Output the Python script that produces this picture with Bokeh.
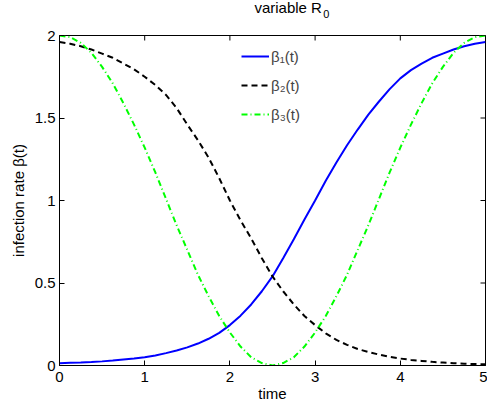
import math
from bokeh.plotting import figure
from bokeh.layouts import column
from bokeh.models import Legend, LegendItem, FixedTicker, Range1d, ColumnDataSource
from bokeh.core.properties import value
from bokeh.embed import file_html
from bokeh.resources import INLINE

# ---- data ----
t = [0.0, 0.125, 0.25, 0.375, 0.5, 0.625, 0.75, 0.875, 1.0, 1.125, 1.25, 1.375,
     1.5, 1.625, 1.75, 1.875, 2.0, 2.125, 2.25, 2.375, 2.5, 2.625, 2.75, 2.875,
     3.0, 3.125, 3.25, 3.375, 3.5, 3.625, 3.75, 3.875, 4.0, 4.125, 4.25, 4.375,
     4.5, 4.625, 4.75, 4.875, 5.0]
beta1 = [0.014, 0.016, 0.018, 0.021, 0.025, 0.030, 0.036, 0.042, 0.050, 0.061,
         0.075, 0.091, 0.110, 0.133, 0.162, 0.198, 0.245, 0.302, 0.370, 0.450,
         0.540, 0.650, 0.765, 0.885, 1.000, 1.120, 1.230, 1.335, 1.430, 1.520,
         1.600, 1.675, 1.740, 1.790, 1.830, 1.865, 1.890, 1.915, 1.935, 1.950, 1.960]
beta2 = [1.960, 1.950, 1.935, 1.915, 1.890, 1.865, 1.830, 1.795, 1.750, 1.700,
         1.640, 1.560, 1.460, 1.365, 1.260, 1.135, 1.000, 0.880, 0.770, 0.650,
         0.540, 0.450, 0.370, 0.300, 0.245, 0.195, 0.155, 0.125, 0.100, 0.082,
         0.066, 0.052, 0.042, 0.034, 0.028, 0.022, 0.018, 0.014, 0.011, 0.009, 0.007]
beta3 = [2.000, 1.990, 1.955, 1.895, 1.810, 1.710, 1.590, 1.460, 1.320, 1.170,
         1.010, 0.850, 0.700, 0.550, 0.420, 0.300, 0.200, 0.115, 0.050, 0.015,
         0.000, 0.015, 0.050, 0.115, 0.200, 0.300, 0.420, 0.550, 0.700, 0.850,
         1.010, 1.170, 1.320, 1.460, 1.590, 1.710, 1.810, 1.895, 1.955, 1.990, 2.000]
x_ticks = [0, 1, 2, 3, 4, 5]
y_ticks = [0, 0.5, 1, 1.5, 2]
y_tick_labels = {0: "0", 0.5: "0.5", 1: "1", 1.5: "1.5", 2: "2"}
series_labels = ["β\u2081(t)", "β\u2082(t)", "β\u2083(t)"]
title_main = "variable R"
title_sub = "0"

FONT = "Liberation Sans"
FS = "15px"
W = 487

# ---- title strip (pixel coordinates, y downwards) ----
th = 26
pt = figure(width=W, height=th, output_backend="svg", toolbar_location=None,
            x_range=Range1d(0, W), y_range=Range1d(th, 0),
            x_axis_location=None, y_axis_location=None, min_border=0,
            outline_line_color=None, background_fill_color="white",
            border_fill_color="white")
pt.title.visible = False
pt.grid.visible = False
pt.text(x=[300], y=[7], text=[title_main], text_align="right",
        text_baseline="middle", text_font=value(FONT),
        text_font_size=value("15px"), text_color="black")
pt.text(x=[301.5], y=[13], text=[title_sub], text_align="left",
        text_baseline="middle", text_font=value(FONT),
        text_font_size=value("11px"), text_color="black")

# ---- main plot ----
src = ColumnDataSource(dict(t=t, b1=beta1, b2=beta2, b3=beta3))

p = figure(frame_width=426, frame_height=330, output_backend="svg", toolbar_location=None,
           x_range=Range1d(x_ticks[0], x_ticks[-1]), y_range=Range1d(y_ticks[0], y_ticks[-1]),
           min_border_left=59, min_border_right=2, min_border_top=9, min_border_bottom=42,
           background_fill_color="white", border_fill_color="white")
p.title.visible = False
p.grid.visible = False
p.outline_line_color = "black"
p.outline_line_width = 1

r1 = p.line("t", "b1", source=src, line_color="#0000ff", line_width=2)
r2 = p.line("t", "b2", source=src, line_color="black", line_width=2, line_dash="6 4")
r3 = p.line("t", "b3", source=src, line_color="#00ff00", line_width=2, line_dash="6 3 1 3")

# inward ticks on the top and right edges of the box (clipped to the frame)
p.scatter(x=x_ticks, y=[y_ticks[-1]] * len(x_ticks), marker="dash", angle=math.pi / 2,
          size=10, line_color="black", line_width=1)
p.scatter(x=[x_ticks[-1]] * len(y_ticks), y=y_ticks, marker="dash",
          size=10, line_color="black", line_width=1)

def style_axis(ax):
    ax.axis_line_color = "black"
    ax.major_tick_in = 5
    ax.major_tick_out = 0
    ax.minor_tick_line_color = None
    ax.major_tick_line_color = "black"
    ax.major_label_text_font = FONT
    ax.major_label_text_font_size = FS
    ax.major_label_text_color = "black"
    ax.axis_label_text_font = FONT
    ax.axis_label_text_font_size = FS
    ax.axis_label_text_font_style = "normal"
    ax.axis_label_text_color = "black"

xa = p.xaxis[0]
xa.ticker = FixedTicker(ticks=x_ticks)
xa.axis_label = "time"
xa.major_label_standoff = 6
xa.axis_label_standoff = 0
style_axis(xa)

ya = p.yaxis[0]
ya.ticker = FixedTicker(ticks=y_ticks)
ya.major_label_overrides = y_tick_labels
ya.axis_label = "infection rate β(t)"
ya.major_label_standoff = 4
ya.axis_label_standoff = 5
style_axis(ya)

legend = Legend(items=[LegendItem(label=series_labels[0], renderers=[r1]),
                       LegendItem(label=series_labels[1], renderers=[r2]),
                       LegendItem(label=series_labels[2], renderers=[r3])],
                location=(182, 241), padding=0, margin=0, spacing=9,
                glyph_width=28, glyph_height=20, label_height=20, label_standoff=2,
                label_text_font=FONT, label_text_font_size=FS,
                border_line_alpha=0, background_fill_alpha=0)
p.add_layout(legend)

layout = column(pt, p, spacing=0)
open("out.html", "w").write(file_html(layout, INLINE))
